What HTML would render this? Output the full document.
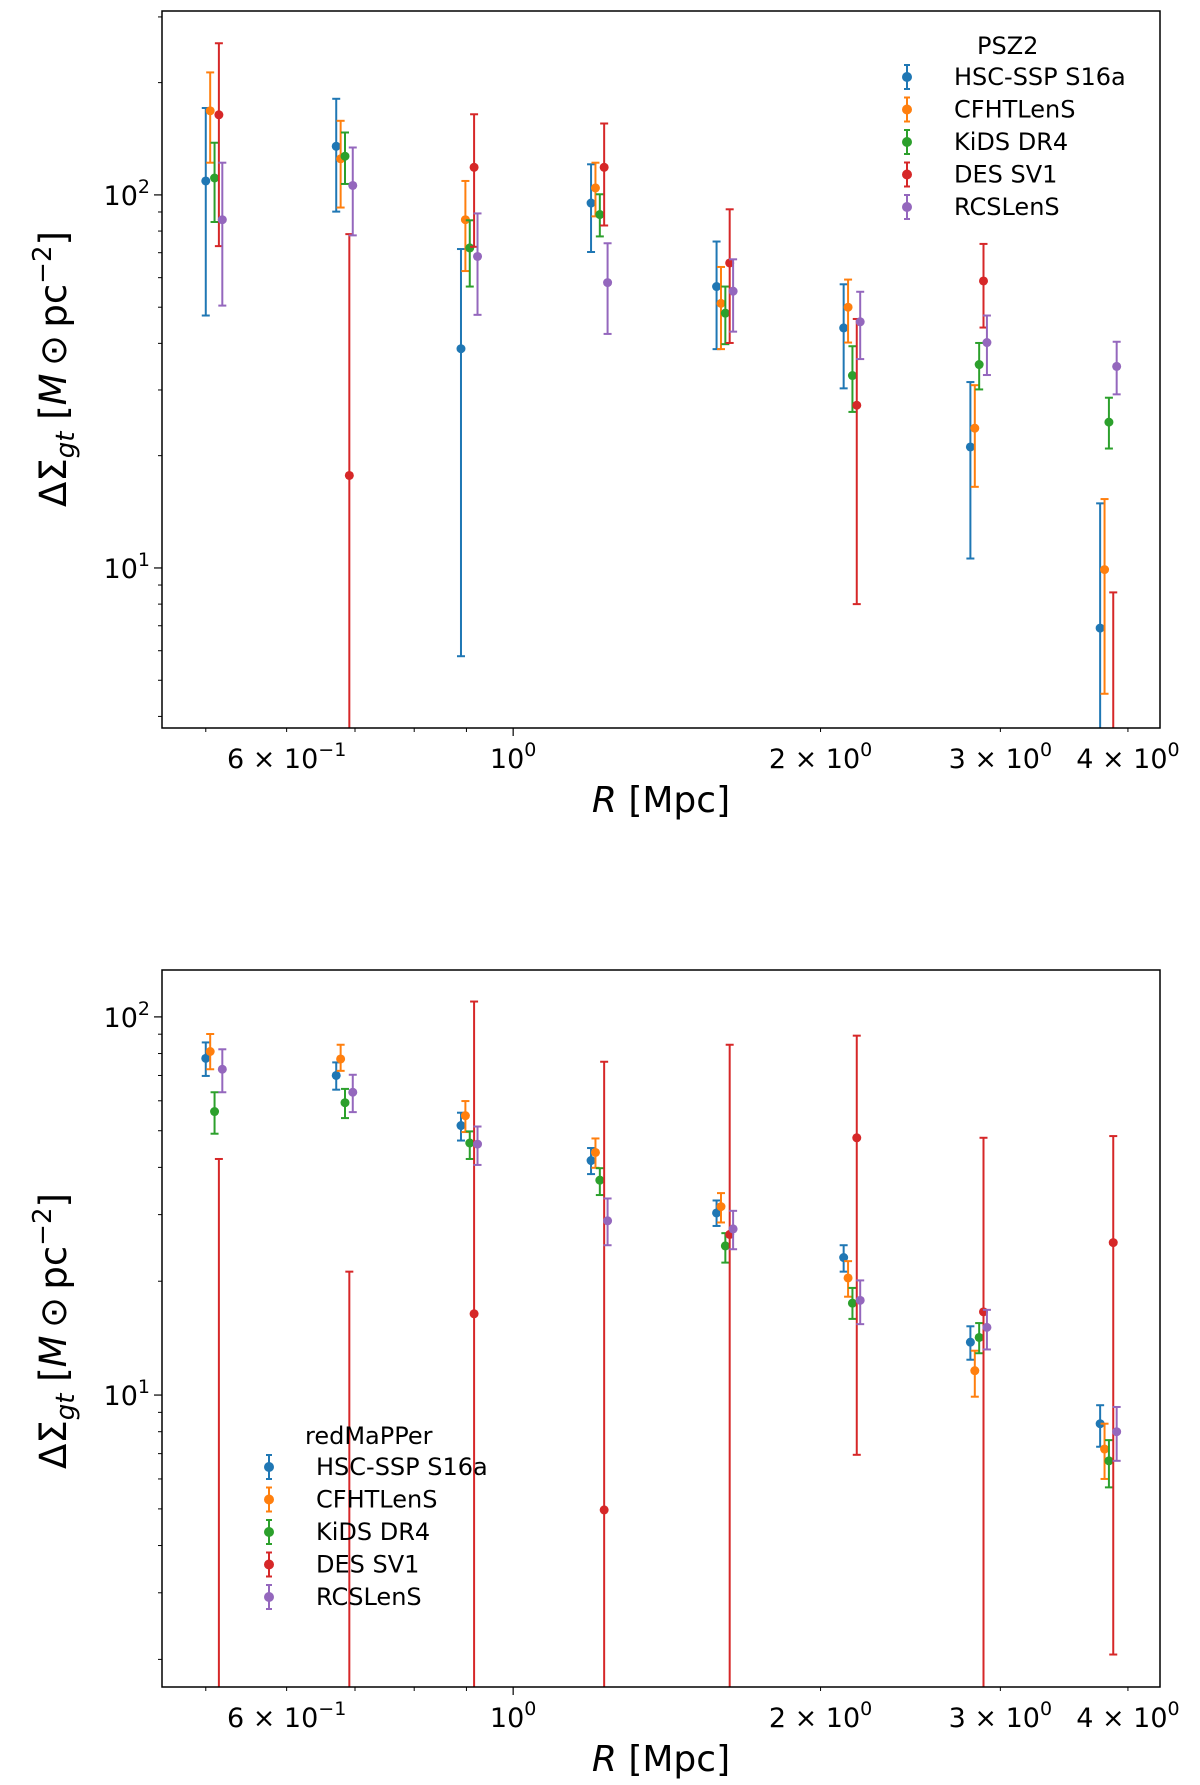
<!DOCTYPE html>
<html><head><meta charset="utf-8"><style>
html,body{margin:0;background:#fff;overflow:hidden;width:1200px;height:1785px;}
svg{display:block;font-family:"DejaVu Sans","Liberation Sans",sans-serif;}
</style></head>
<body>
<svg id="fig" width="1200" height="1785" viewBox="0 0 1200 1785" xmlns="http://www.w3.org/2000/svg"></svg>
<script>
const seriesNames = ["HSC-SSP S16a","CFHTLenS","KiDS DR4","DES SV1","RCSLenS"];
const seriesColors = ["#1f77b4","#ff7f0e","#2ca02c","#d62728","#9467bd"];
const radii = [0.500,0.671,0.889,1.192,1.582,2.107,2.804,3.757];
const seriesShift = [1.0,1.01,1.02,1.03,1.038];
const xTickVals = [0.6,1,2,3,4];
const xTickLabels = ["6 \u00d7 10","10","2 \u00d7 10","3 \u00d7 10","4 \u00d7 10"];
const xTickExps = ["\u22121","0","0","0","0"];
// PSZ2 panel values
const psz2Val = [
 [109,135,38.7,95.1,56.8,44.0,21.1,6.9],
 [168,125,85.8,104.4,51.2,50.0,23.7,9.9],
 [111,127,72.1,88.6,48.2,32.8,35.1,24.6],
 [164,17.7,118.6,118.6,65.7,27.3,58.8,2.0],
 [85.8,106,68.4,58.2,55.2,45.7,40.2,34.7]];
const psz2Hi = [
 [171,181,71.6,120.8,75.0,57.6,31.5,14.9],
 [213,158,109,122,64.1,59.3,30.9,15.3],
 [138,147,85.5,100.4,56.8,39.3,40.1,28.6],
 [255,78.5,164.5,155.4,91.5,46.5,73.9,8.6],
 [122,134,89.2,74.2,67.2,55.0,47.5,40.4]];
const psz2Lo = [
 [47.5,90.2,5.8,70.3,38.6,30.3,10.6,0.5],
 [122,92.5,62.5,87.6,38.6,40.2,16.5,4.6],
 [84.6,107,56.8,77.4,39.8,26.2,30.1,20.9],
 [72.9,0.5,72.6,82.8,40.1,8.0,44.1,0.5],
 [50.5,77.9,47.7,42.4,43.0,36.3,32.9,29.2]];
// redMaPPer panel values
const rmVal = [
 [77.7,70.0,51.6,41.7,30.3,23.1,13.8,8.4],
 [81.0,77.4,54.8,43.8,31.5,20.4,11.6,7.2],
 [56.2,59.3,46.4,37.0,24.8,17.5,14.2,6.7],
 [1.0,1.0,16.4,4.97,26.6,47.9,16.6,25.3],
 [72.7,63.2,46.1,28.9,27.5,17.8,15.1,8.0]];
const rmHi = [
 [85.6,75.8,55.8,45.0,32.7,24.9,15.2,9.4],
 [90.1,84.4,59.9,47.7,34.2,22.6,13.1,8.4],
 [63.2,64.5,49.8,39.8,26.8,19.2,15.5,7.6],
 [42.1,21.2,109.8,76.1,84.4,89.2,47.9,48.4],
 [82.1,70.3,51.3,33.1,30.7,20.1,16.8,9.3]];
const rmLo = [
 [69.8,64.2,47.1,38.4,28.0,21.2,12.4,7.3],
 [72.7,72.0,49.6,39.9,28.6,18.2,9.9,6.0],
 [49.1,54.0,42.1,33.8,22.4,15.9,12.9,5.7],
 [0.5,0.5,0.5,0.5,0.5,6.95,0.5,2.06],
 [63.2,56.0,40.6,24.9,24.3,15.4,13.2,6.7]];

const NS="http://www.w3.org/2000/svg";
const svg=document.getElementById('fig');
function mk(tag,attrs,parent){const e=document.createElementNS(NS,tag);for(const k in attrs)e.setAttribute(k,attrs[k]);(parent||svg).appendChild(e);return e;}

function panel(cfg){
  const g=mk('g',{});
  
  
  const L=162,R=1160,T=cfg.top,B=cfg.bottom;
  const xmin=Math.log10(0.453),xmax=Math.log10(4.30);
  const X=v=>L+(Math.log10(v)-xmin)/(xmax-xmin)*(R-L);
  const Y=v=>B-(Math.log10(v)-cfg.ymin)/(cfg.ymax-cfg.ymin)*(B-T);
  const inside=y=>y>=T&&y<=B;
  for(const v of [0.5,0.6,0.7,0.8,0.9,2,3,4]){const t=mk('line',{x1:X(v),x2:X(v),y1:B,y2:B+4,stroke:'#000','stroke-width':1},g);}
  mk('line',{x1:X(1),x2:X(1),y1:B,y2:B+8,stroke:'#000','stroke-width':1.2},g);
  xTickVals.forEach((v,i)=>{
    const t=mk('text',{x:X(v),y:B+40,'text-anchor':'middle','font-size':27,fill:'#000'},g);
    
    t.appendChild(document.createTextNode(xTickLabels[i]));
    const s=mk('tspan',{dy:-12,'font-size':19},t);s.textContent=xTickExps[i];
  });
  for(let d=0;d<3;d++){for(let m=1;m<10;m++){const v=m*Math.pow(10,d);const lv=Math.log10(v);
    if(lv<cfg.ymin||lv>cfg.ymax)continue;
    const major=m===1;
    const t=mk('line',{x1:L-(major?8:4),x2:L,y1:Y(v),y2:Y(v),stroke:'#000','stroke-width':major?1.2:1},g);
    
    if(major){const tx=mk('text',{x:L-12,y:Y(v)+10,'text-anchor':'end','font-size':27,fill:'#000'},g);
      
      tx.appendChild(document.createTextNode('10'));const s=mk('tspan',{dy:-12,'font-size':19},tx);s.textContent=String(d);}
  }}
  cfg.val.forEach((vals,si)=>{
    const sg=mk('g',{stroke:seriesColors[si],fill:seriesColors[si]},g);
    
    
    vals.forEach((v,j)=>{
      const x=X(radii[j]*seriesShift[si]);
      const yhRaw=Y(cfg.hi[si][j]),ylRaw=Y(cfg.lo[si][j]);
      const yh=Math.max(T,Math.min(B,yhRaw)),yl=Math.max(T,Math.min(B,ylRaw));
      const l=mk('line',{x1:x,x2:x,y1:yh,y2:yl,'stroke-width':2},sg);
      
      if(inside(yhRaw))mk('line',{x1:x-4,x2:x+4,y1:yh,y2:yh,'stroke-width':2},sg);
      if(inside(ylRaw))mk('line',{x1:x-4,x2:x+4,y1:yl,y2:yl,'stroke-width':2},sg);
      const cyv=Y(v);
      if(inside(cyv)){const c=mk('circle',{cx:x,cy:cyv,r:4.5,stroke:'none'},sg);
      }
    });
  });
  const fr=mk('rect',{x:L,y:T,width:R-L,height:B-T,fill:'none',stroke:'#000','stroke-width':1.5},g);
  
  const xl=mk('text',{x:(L+R)/2,y:B+84,'text-anchor':'middle','font-size':36,fill:'#000'},g);
  
  const i1=mk('tspan',{'font-style':'italic'},xl);i1.textContent='R';xl.appendChild(document.createTextNode(' [Mpc]'));
  const cy=cfg.ylabelY;
  const yl=mk('text',{x:0,y:0,transform:`translate(66,${cy}) rotate(-90)`,'text-anchor':'middle','font-size':37,fill:'#000'},g);
  
  yl.appendChild(document.createTextNode('\u0394\u03a3'));
  const sb=mk('tspan',{'font-style':'italic','font-size':26,dy:8},yl);sb.textContent='gt';
  const r1=mk('tspan',{dy:-8},yl);r1.textContent=' [';
  const r2=mk('tspan',{'font-style':'italic'},yl);r2.textContent='M';
  const r3=mk('tspan',{},yl);r3.textContent='\u2009\u2299\u2009pc';
  const r4=mk('tspan',{dy:-15,'font-size':26},yl);r4.textContent='\u22122';
  const r5=mk('tspan',{dy:15},yl);r5.textContent=']';
  const lg=mk('g',{},g);
  
  const lt=mk('text',{x:cfg.legX+cfg.titleOff,y:cfg.legY-31+8,'font-size':24,fill:'#000'},lg);
  lt.textContent=cfg.legTitle;
  seriesNames.forEach((n,i)=>{
    const y=cfg.legY+i*32.5,c=seriesColors[i],x=cfg.legX;
    const e=mk('g',{},lg);
    
    mk('line',{x1:x,x2:x,y1:y-12,y2:y+12,stroke:c,'stroke-width':2},e);
    mk('line',{x1:x-3,x2:x+3,y1:y-12,y2:y-12,stroke:c,'stroke-width':2},e);
    mk('line',{x1:x-3,x2:x+3,y1:y+12,y2:y+12,stroke:c,'stroke-width':2},e);
    mk('circle',{cx:x,cy:y,r:5,fill:c},e);
    const t=mk('text',{x:x+47,y:y+8,'font-size':24,fill:'#000'},e);t.textContent=n;
  });
}
panel({name:'psz2-panel',top:11,bottom:728,ymin:0.571,ymax:2.493,val:psz2Val,hi:psz2Hi,lo:psz2Lo,ylabelY:369,legX:907,legY:77,legTitle:'PSZ2',titleOff:70});
panel({name:'redmapper-panel',top:970,bottom:1687,ymin:0.228,ymax:2.124,val:rmVal,hi:rmHi,lo:rmLo,ylabelY:1331,legX:269,legY:1467,legTitle:'redMaPPer',titleOff:36});
</script>
</body></html>
